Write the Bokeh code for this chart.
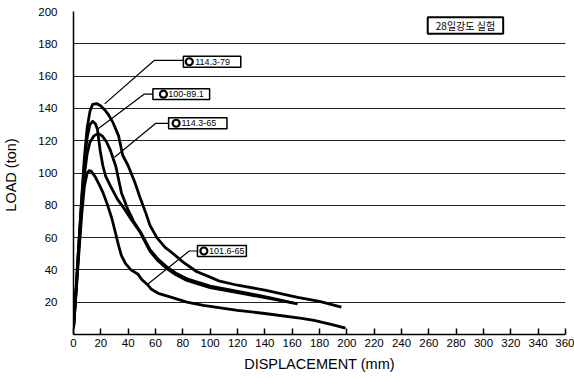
from bokeh.plotting import figure
from bokeh.models import Range1d, FixedTicker
from bokeh.core.properties import value
from bokeh.embed import file_html
from bokeh.resources import INLINE

# ---- data ----
x_ticks = list(range(0, 361, 20))
y_ticks = list(range(20, 201, 20))

series_names = ["114.3-79", "100-89.1", "114.3-65", "101.6-65"]

disp_a = [0, 2, 4, 6, 8, 10, 12, 14, 17, 20, 23, 26, 29, 33, 36, 40, 45, 49, 53, 56, 61, 67, 73, 80, 90, 100, 107, 120, 140, 164, 180, 196]
load_a = [4, 30, 58, 85, 110, 128, 138, 142.5, 143, 141.5, 139, 135.5, 131, 123, 111, 104.5, 94, 84, 75, 67.5, 60, 54, 50, 45, 39, 35.5, 33, 30.5, 27.5, 23, 20.5, 17]

disp_b = [0, 2, 4, 6, 8, 10, 12, 14, 16, 17.5, 19.5, 21.5, 23.5, 27, 32, 37, 42, 49, 56, 62, 68, 75, 83, 100, 126, 145, 164]
load_b = [4, 30, 57, 83, 106, 122, 130, 132, 130.5, 127, 114, 104.5, 98, 92, 84, 78, 71.5, 63, 51.5, 45.5, 41, 37, 33.5, 29, 25, 22, 19]

disp_c = [0, 2, 4, 6, 8, 10, 12, 15, 18, 21, 24, 27, 29, 31, 33, 35, 39.5, 44, 49, 56, 62, 68, 75, 83, 100, 126, 145, 161]
load_c = [4, 28, 55, 80, 99, 112, 119, 123, 124.5, 123, 119.5, 114, 109, 104, 96, 88, 78, 70, 63.5, 52.5, 46.5, 42, 38, 34.5, 30, 25.8, 22.5, 19.5]

disp_d = [0, 2, 4, 6, 8, 10, 11.5, 13, 16, 19, 21.5, 25, 28, 31, 33, 35, 38, 42, 47, 50, 54, 57, 62, 70, 83, 95, 120, 140, 167, 176, 190, 199]
load_d = [4, 27, 51, 74, 92, 100, 101.5, 101, 97.5, 92.5, 88, 80, 72, 62, 55, 49, 44, 40, 37.5, 34, 31, 28, 25.5, 23.5, 20, 18, 15, 13, 10, 8.7, 6, 4]

# ---- callout geometry (annotation placement, not data) ----
box_left = [80.4, 58.1, 69.6, 90.7]
box_right = [122.4, 99.6, 112.3, 126.5]
box_bottom = [165.5, 145.5, 127.4, 48.3]
box_top = [172.3, 152.1, 134.2, 55.1]
mark_x = [84.7, 65.8, 75.1, 95.4]
text_x = [89.0, 69.3, 79.0, 99.2]
leader_x = [[80.4, 59.0, 22.8], [58.1, 51.6, 18.0], [69.6, 60.0, 30.0], [90.7, 84.7, 54.0]]
leader_y = [[169.7, 169.7, 142.8], [148.8, 148.8, 127.4], [130.7, 130.7, 109.8], [51.7, 51.7, 31.0]]

note_text = ["28일강도 실험"]
note_box = [259.2, 314.4, 186.2, 196.5]  # left, right, bottom, top

FONT = "Liberation Sans"

p = figure(width=574, height=378, output_backend="svg", toolbar_location=None,
           x_range=Range1d(0, 360), y_range=Range1d(0, 200),
           min_border_left=65, min_border_right=9, min_border_top=11, min_border_bottom=44)
p.outline_line_color = None
p.background_fill_color = "white"

# axes
p.xaxis.ticker = FixedTicker(ticks=x_ticks)
p.yaxis.ticker = FixedTicker(ticks=y_ticks)
for ax in (p.xaxis[0], p.yaxis[0]):
    ax.axis_line_color = "black"
    ax.axis_line_width = 1.5
    ax.major_label_text_font = FONT
    ax.major_label_text_font_size = "11.5px"
    ax.major_label_text_color = "black"
    ax.minor_tick_line_color = None
    ax.axis_label_text_font = FONT
    ax.axis_label_text_font_size = "14.5px"
    ax.axis_label_text_font_style = "normal"
    ax.axis_label_text_color = "black"
p.xaxis.axis_label = "DISPLACEMENT (mm)"
p.yaxis.axis_label = "LOAD  (ton)"
p.xaxis.major_tick_in = 6
p.xaxis.major_tick_out = 0
p.xaxis.major_tick_line_width = 1.5
p.xaxis.major_tick_line_color = "black"
p.xaxis.major_label_standoff = 4
p.xaxis.axis_label_standoff = 6
p.yaxis.major_tick_line_color = None
p.yaxis.major_label_standoff = 10
p.yaxis.axis_label_standoff = 16

p.xgrid.grid_line_color = None
p.ygrid.grid_line_color = "#222222"
p.ygrid.grid_line_width = 1.2

# curves
for xs, ys in ((disp_a, load_a), (disp_b, load_b), (disp_c, load_c), (disp_d, load_d)):
    p.line(xs, ys, line_color="black", line_width=2.8, line_join="round")

# leaders
for lx, ly in zip(leader_x, leader_y):
    p.line(lx, ly, line_color="black", line_width=1.2)

# callout boxes
p.quad(left=box_left, right=box_right, bottom=box_bottom, top=box_top,
       fill_color="white", line_color="black", line_width=1.5)
mid_y = [(b + t) / 2 for b, t in zip(box_bottom, box_top)]
p.scatter(mark_x, mid_y, marker="circle", size=7, fill_color="white",
          line_color="black", line_width=2.2)
p.text(text_x, mid_y, text=series_names, text_font=value(FONT), text_font_size="9px",
       text_color="black", text_align="left", text_baseline="middle")

p.quad(left=[note_box[0]], right=[note_box[1]], bottom=[note_box[2]], top=[note_box[3]],
       fill_color="white", line_color="black", line_width=2)
p.text([(note_box[0] + note_box[1]) / 2], [(note_box[2] + note_box[3]) / 2], text=note_text,
       text_font=value("Noto Sans CJK KR"), text_font_size="10px", text_color="black",
       text_align="center", text_baseline="middle")

open("out.html", "w").write(file_html(p, INLINE))
